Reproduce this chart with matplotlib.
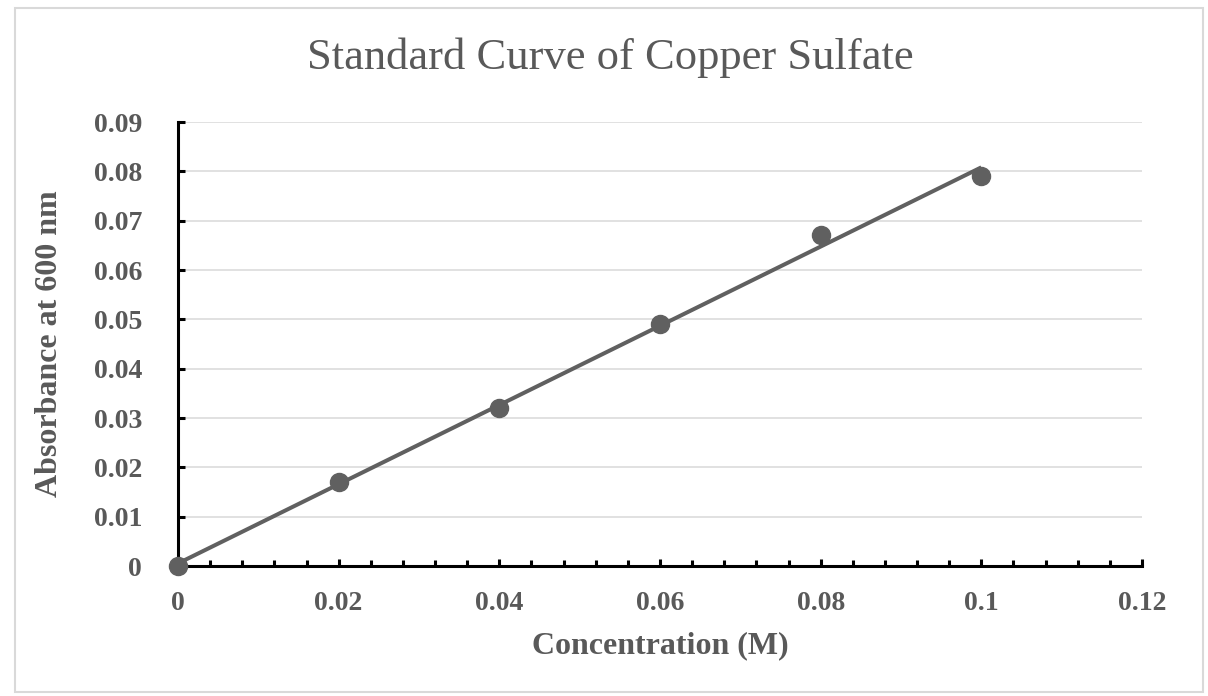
import matplotlib

matplotlib.use("Agg")

import matplotlib.pyplot as plt  # noqa: E402
import numpy as np  # noqa: E402
from matplotlib.patches import Rectangle  # noqa: E402
from matplotlib.ticker import MultipleLocator, FuncFormatter  # noqa: E402

# данные
concentration = [0.0, 0.02, 0.04, 0.06, 0.08, 0.10]
absorbance = [0.0, 0.017, 0.032, 0.049, 0.067, 0.079]
x_ticks = [0, 0.02, 0.04, 0.06, 0.08, 0.1, 0.12]
y_ticks = [0, 0.01, 0.02, 0.03, 0.04, 0.05, 0.06, 0.07, 0.08, 0.09]

TEXT = "#595959"
POINT = "#606060"
GRID = "#d9d9d9"

plt.rcParams["font.family"] = ["Liberation Serif", "DejaVu Serif"]

fig = plt.figure(figsize=(12.08, 6.96), dpi=100)
ax = fig.add_axes([178 / 1208, 1 - 566 / 696, (1142 - 178) / 1208, (566 - 122) / 696])

# рамка вокруг всей диаграммы
fig.patches.append(Rectangle((15 / 1208, 4 / 696), 1188 / 1208, 684 / 696,
                             transform=fig.transFigure, fill=False,
                             edgecolor="#d9d9d9", linewidth=1.5))

# линия тренда (линейная)
slope, intercept = np.polyfit(concentration, absorbance, 1)
fit_x = np.array([min(concentration), max(concentration)])
ax.plot(fit_x, slope * fit_x + intercept, color=POINT, linewidth=2.9,
        solid_capstyle="butt", zorder=3)

ax.plot(concentration, absorbance, "o", color=POINT, markersize=13,
        clip_on=False, zorder=4)

ax.set_xlim(0, 0.12)
ax.set_ylim(0, 0.09)
ax.set_xticks(x_ticks)
ax.set_yticks(y_ticks)
ax.xaxis.set_minor_locator(MultipleLocator(0.004))
fmt = FuncFormatter(lambda v, _: "0" if abs(v) < 1e-12 else f"{v:g}")
ax.xaxis.set_major_formatter(fmt)
ax.yaxis.set_major_formatter(fmt)

ax.grid(axis="y", color=GRID, linewidth=1.1)
ax.set_axisbelow(True)

for side in ("top", "right"):
    ax.spines[side].set_visible(False)
for side in ("left", "bottom"):
    ax.spines[side].set_linewidth(2.2)
    ax.spines[side].set_color("black")

ax.tick_params(axis="both", which="major", direction="in", length=5, width=2.2,
               color="black", labelsize=20, labelcolor=TEXT)
ax.tick_params(axis="x", which="major", pad=18)
ax.tick_params(axis="y", which="major", pad=26)
ax.tick_params(axis="x", which="minor", direction="in", length=4, width=2.2, color="black")
for lbl in ax.get_xticklabels() + ax.get_yticklabels():
    lbl.set_fontweight("bold")

ax.set_xlabel("Concentration (M)", fontsize=23, fontweight="bold", color=TEXT, labelpad=11)
ax.set_ylabel("Absorbance at 600 nm", fontsize=23, fontweight="bold", color=TEXT, labelpad=21)

fig.text(0.505, 1 - 58 / 696, "Standard Curve of Copper Sulfate", ha="center", va="center",
         fontsize=32, color=TEXT)

fig.savefig("out.png", dpi=100)
plt.close(fig)
